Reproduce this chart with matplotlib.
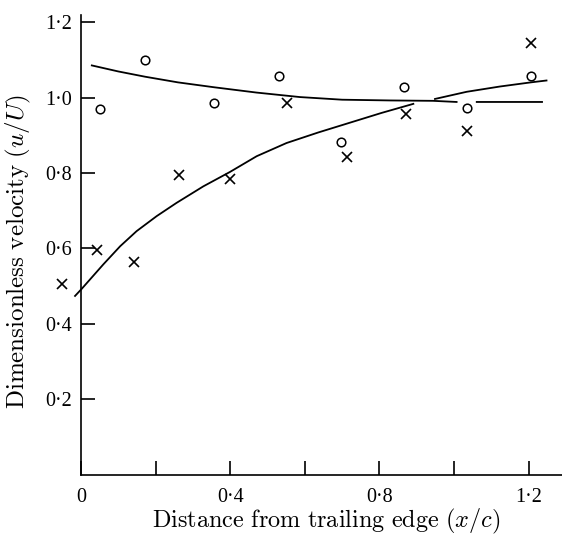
import matplotlib
matplotlib.use("Agg")
import matplotlib.pyplot as plt
import numpy as np

# Data
circle_x = [0.051, 0.172, 0.357, 0.530, 0.697, 0.867, 1.034, 1.206]
circle_y = [0.971, 1.100, 0.987, 1.058, 0.884, 1.030, 0.974, 1.058]

cross_x = [-0.052, 0.042, 0.143, 0.263, 0.400, 0.553, 0.712, 0.870, 1.034, 1.206]
cross_y = [0.506, 0.595, 0.564, 0.794, 0.785, 0.986, 0.843, 0.957, 0.913, 1.145]

# Upper fitted curve (decreasing, then flat with a gap near the marker)
upper_x = [0.029, 0.10, 0.172, 0.26, 0.357, 0.47, 0.587, 0.70, 0.83, 0.944, 1.007, np.nan, 1.061, 1.15, 1.236]
upper_y = [1.086, 1.070, 1.056, 1.041, 1.028, 1.014, 1.002, 0.995, 0.993, 0.992, 0.989, np.nan, 0.989, 0.989, 0.989]

# Lower fitted curve (rising)
lower_x = [-0.016, 0.002, 0.060, 0.105, 0.149, 0.203, 0.256, 0.328, 0.399, 0.471, 0.551, 0.636, 0.721, 0.806, 0.891]
lower_y = [0.474, 0.493, 0.558, 0.606, 0.646, 0.686, 0.721, 0.765, 0.803, 0.845, 0.880, 0.908, 0.934, 0.960, 0.984]

# Branch rising after the crossing
branch_x = [0.949, 1.034, 1.123, 1.206, 1.248]
branch_y = [0.997, 1.016, 1.030, 1.041, 1.046]

x_ticks = [0, 0.2, 0.4, 0.6, 0.8, 1.0, 1.2]
x_ticklabels = ["0", "", "0·4", "", "0·8", "", "1·2"]
y_ticks = [0.2, 0.4, 0.6, 0.8, 1.0, 1.2]
y_ticklabels = ["0·2", "0·4", "0·6", "0·8", "1·0", "1·2"]

plt.rcParams['font.family'] = ['Liberation Serif', 'DejaVu Serif']
plt.rcParams['mathtext.fontset'] = 'cm'

fig = plt.figure(figsize=(5.62, 5.40), dpi=100)
ax = fig.add_axes([81/562, 65.5/540, 481/562, 459.5/540])

ax.plot(upper_x, upper_y, color='black', lw=1.3, clip_on=False)
ax.plot(lower_x, lower_y, color='black', lw=1.3, clip_on=False)
ax.plot(branch_x, branch_y, color='black', lw=1.3, clip_on=False)

ax.plot(circle_x, circle_y, linestyle='none', marker='o', ms=6.2,
        mfc='white', mec='black', mew=1.1, clip_on=False)
ax.plot(cross_x, cross_y, linestyle='none', marker='x', ms=6.5,
        mec='black', mew=1.2, clip_on=False)

ax.set_xlim(0, 481/373)
ax.set_ylim(0, 460.5/377.5)

for s in ['top', 'right']:
    ax.spines[s].set_visible(False)
for s in ['left', 'bottom']:
    ax.spines[s].set_linewidth(1.2)

ax.set_xticks(x_ticks)
ax.set_xticklabels(x_ticklabels)
ax.set_yticks(y_ticks)
ax.set_yticklabels(y_ticklabels)
ax.tick_params(direction='in', length=10, width=1.2, labelsize=14.5)
ax.tick_params(axis='x', pad=9.5)
ax.tick_params(axis='y', pad=6.5)

ax.set_xlabel(r'$\mathrm{Distance\ from\ trailing\ edge}\ (x/c)$', fontsize=17.5, va='top')
ax.set_ylabel(r'$\mathrm{Dimensionless\ velocity}\ (u/U)$', fontsize=18)
ax.xaxis.set_label_coords(0.510, -0.071)
ax.yaxis.set_label_coords(-0.100, 0.485)

fig.savefig('out.png', dpi=100)
